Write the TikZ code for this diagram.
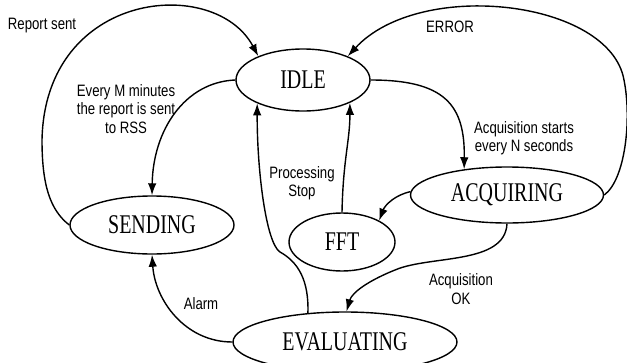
\documentclass[tikz,border=0pt]{standalone}
\usepackage{fontspec}
\newfontfamily\serifx[FakeStretch=0.74]{Liberation Serif}
\newfontfamily\sansx[FakeStretch=0.8]{Liberation Sans}
\usetikzlibrary{shapes.geometric,arrows.meta}
\begin{document}
\begin{tikzpicture}[x=1pt,y=-1pt,
  state/.style={ellipse,draw,line width=1.4pt,inner sep=0pt,font=\serifx\fontsize{27}{32}\selectfont},
  lbl/.style={font=\sansx\fontsize{16.5}{18.5}\selectfont,align=center,inner sep=0pt},
  conn/.style={line width=1.4pt,-{Latex[length=12pt,width=8.5pt]}}]
\useasboundingbox[fill=white] (0,0) rectangle (627,362);
% states
\node[state,minimum width=134pt,minimum height=62pt] (IDLE) at (303,80) {IDLE};
\node[state,minimum width=164pt,minimum height=58pt] (SENDING) at (152,225) {SENDING};
\node[state,minimum width=193pt,minimum height=56pt] (ACQUIRING) at (507,195) {ACQUIRING};
\node[state,minimum width=106pt,minimum height=58pt] (FFT) at (342,242) {FFT};
\node[state,minimum width=224pt,minimum height=60pt] (EVALUATING) at (345,342) {EVALUATING};
% labels
\node[lbl] (lreport) at (42,26) {Report sent};
\node[lbl] (lerror) at (450,27) {ERROR};
\node[lbl] (levery) at (126,109) {Every M minutes\\the report is sent\\to RSS};
\node[lbl] (lacqstart) at (524,138) {Acquisition starts\\every N seconds};
\node[lbl] (lproc) at (302,183) {Processing\\Stop};
\node[lbl] (lalarm) at (201,304) {Alarm};
\node[lbl] (lacqok) at (461,289) {Acquisition\\OK};
% connectors
\draw[conn] (SENDING.west) .. controls (50,210) and (42,185) .. (42,140)
  .. controls (45,-10) and (215,-25) .. (IDLE.152);
\draw[conn] (IDLE.west) .. controls (185,82) and (153,130) .. (SENDING.north);
\draw[conn] (ACQUIRING.east) .. controls (625,180) and (632,120) .. (624,80)
  .. controls (610,0) and (420,-22) .. (IDLE.28);
\draw[conn] (IDLE.east) .. controls (445,80) and (465,105) .. (ACQUIRING.149);
\draw[conn] (ACQUIRING.178) .. controls (395,195) and (385,205) .. (FFT.30);
\draw[conn] (FFT.north) .. controls (343,160) and (350,140) .. (IDLE.-26);
\draw[conn] (EVALUATING.142) .. controls (309,280) and (298,262) .. (280,252)
  .. controls (266,243) and (257,170) .. (IDLE.207);
\draw[conn] (ACQUIRING.south) .. controls (505,265) and (430,255) .. (395,270)
  .. controls (370,280) and (352,292) .. (EVALUATING.87);
\draw[conn] (EVALUATING.west) .. controls (185,342) and (155,300) .. (SENDING.south);
\end{tikzpicture}
\end{document}
